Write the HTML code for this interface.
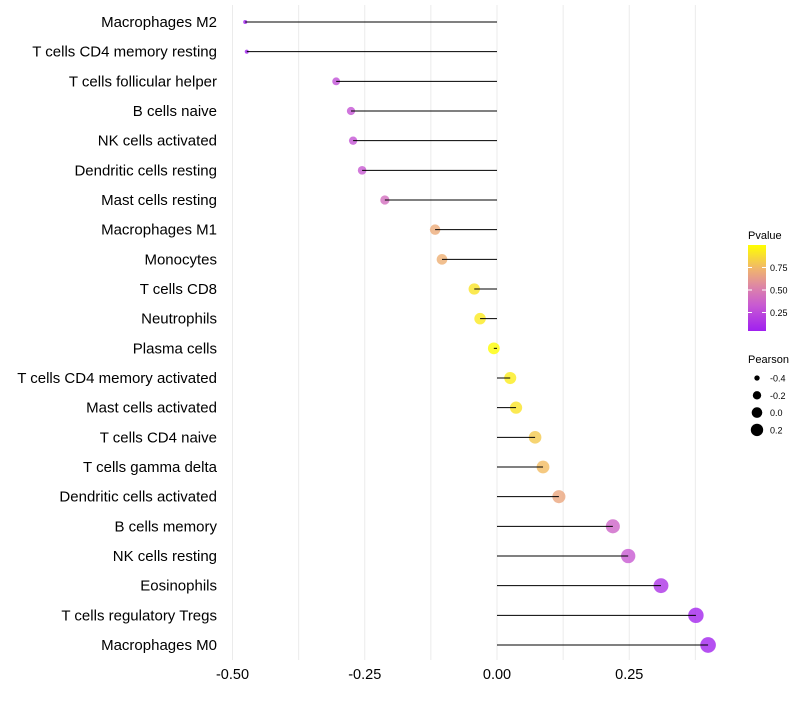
<!DOCTYPE html>
<html><head><meta charset="utf-8"><style>
body{margin:0;background:#fff;font-family:"Liberation Sans",sans-serif}
svg text{font-family:"Liberation Sans",sans-serif}
</style></head><body>
<svg id="c" width="800" height="700"></svg>
<script>
const categories=["Macrophages M2","T cells CD4 memory resting","T cells follicular helper","B cells naive","NK cells activated","Dendritic cells resting","Mast cells resting","Macrophages M1","Monocytes","T cells CD8","Neutrophils","Plasma cells","T cells CD4 memory activated","Mast cells activated","T cells CD4 naive","T cells gamma delta","Dendritic cells activated","B cells memory","NK cells resting","Eosinophils","T cells regulatory  Tregs ","Macrophages M0"];
const pearson=[-0.476,-0.473,-0.304,-0.276,-0.272,-0.255,-0.212,-0.117,-0.104,-0.043,-0.032,-0.006,0.025,0.036,0.072,0.087,0.117,0.219,0.248,0.31,0.376,0.399];
const pvalue=[0.0,0.0,0.25,0.27,0.27,0.3,0.4,0.68,0.7,0.9,0.92,0.99,0.93,0.9,0.8,0.75,0.66,0.35,0.3,0.1,0.03,0.02];
const xTicks=[-0.5,-0.25,0,0.25];
const xTickLabels=["-0.50","-0.25","0.00","0.25"];
const xMinor=[-0.375,-0.125,0.125,0.375];
const pTicks=[0.25,0.5,0.75];
const sizeTicks=[-0.4,-0.2,0.0,0.2];
const NS="http://www.w3.org/2000/svg",svg=document.getElementById('c');
function mk(t,a,p){const e=document.createElementNS(NS,t);for(const k in a)e.setAttribute(k,a[k]);(p||svg).appendChild(e);return e;}
const X=v=>497+v*529;
const Y=i=>22+i*(623/21);
const R=v=>1.12*Math.sqrt(Math.max(0.5,2+52*(v+0.5)));
const stops=[[0,[160,32,240]],[0.3,[200,90,210]],[0.5,[220,130,170]],[0.72,[240,180,110]],[1,[255,255,0]]];
function col(p){for(let i=1;i<stops.length;i++){if(p<=stops[i][0]){const a=stops[i-1],b=stops[i],t=(p-a[0])/(b[0]-a[0]);return `rgb(${a[1].map((x,k)=>Math.round(x+(b[1][k]-x)*t))})`;}}return 'rgb(255,255,0)';}
[...xTicks,...xMinor].forEach(v=>{const g=mk('line',{x1:X(v),x2:X(v),y1:5,y2:660,stroke:'#ebebeb','stroke-width':1});

});
xTicks.forEach((v,i)=>{const t=mk('text',{x:X(v),y:679,'text-anchor':'middle','font-size':14.5,fill:'#000'});t.textContent=xTickLabels[i];

});
categories.forEach((c,i)=>{const y=Y(i),v=pearson[i];
const pt=mk('circle',{cx:X(v),cy:y,r:R(v),fill:col(pvalue[i]),'fill-opacity':0.8});


const ln=mk('line',{x1:X(v),x2:X(0),y1:y,y2:y,stroke:'#000','stroke-width':1});


const t=mk('text',{x:217,y:y+5,'text-anchor':'end','font-size':15,fill:'#000'});t.textContent=c;

});
const lt=mk('text',{x:748,y:239,'font-size':11});lt.textContent="Pvalue";


const defs=mk('defs',{});const gr=mk('linearGradient',{id:'g',x1:0,y1:1,x2:0,y2:0},defs);
[0,0.15,0.3,0.4,0.5,0.6,0.72,0.85,1].forEach(o=>mk('stop',{offset:o,'stop-color':col(o)},gr));
const bar=mk('rect',{x:748,y:245,width:18,height:86,fill:'url(#g)'});


const PY=p=>335-p*90;
pTicks.forEach(p=>{mk('line',{x1:748,x2:752,y1:PY(p),y2:PY(p),stroke:'#fff'});mk('line',{x1:762,x2:766,y1:PY(p),y2:PY(p),stroke:'#fff'});
const t=mk('text',{x:770,y:PY(p)+3.5,'font-size':9});t.textContent=p.toFixed(2);

});
const st=mk('text',{x:748,y:363,'font-size':11});st.textContent="Pearson";


sizeTicks.forEach((s,i)=>{const y=378+i*17.3;
const c=mk('circle',{cx:757,cy:y,r:R(s)/1.12,fill:'#000'});


const t=mk('text',{x:770,y:y+3.5,'font-size':9});t.textContent=s.toFixed(1);

});
</script>
</body></html>
